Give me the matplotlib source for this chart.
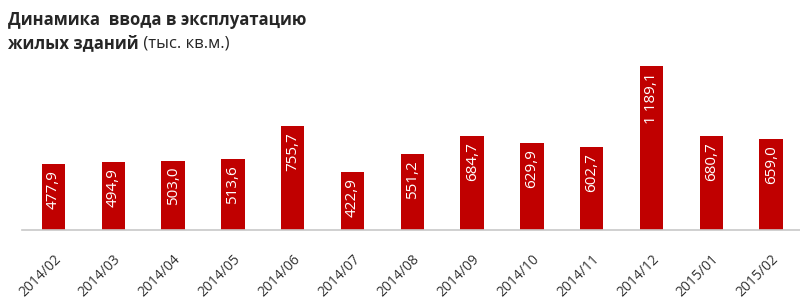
import matplotlib
matplotlib.use("Agg")
import matplotlib.pyplot as plt

# данные
months = ["2014/02", "2014/03", "2014/04", "2014/05", "2014/06", "2014/07", "2014/08",
          "2014/09", "2014/10", "2014/11", "2014/12", "2015/01", "2015/02"]
values = [477.9, 494.9, 503.0, 513.6, 755.7, 422.9, 551.2,
          684.7, 629.9, 602.7, 1189.1, 680.7, 659.0]

BAR_COLOR = "#C00000"
TEXT_COLOR = "#262626"

plt.rcParams['font.family'] = ['Open Sans', 'DejaVu Sans']


def fmt(v):
    # 1189.1 -> "1 189,1"
    return f"{v:,.1f}".replace(",", " ").replace(".", ",")


fig = plt.figure(figsize=(8, 3.08), dpi=100)
ax = fig.add_axes([0.0275, 0.2532, 0.975, 0.552])

x = range(len(values))
bars = ax.bar(x, values, width=0.39, color=BAR_COLOR, zorder=2)

for b, v in zip(bars, values):
    ax.annotate(fmt(v), xy=(b.get_x() + b.get_width() / 2, v), xytext=(0, -4.5),
                textcoords="offset points", rotation=90, ha="center", va="top",
                color="white", fontsize=11)

ax.set_xlim(-0.527, 12.516)
ax.set_ylim(0, 1233)
ax.set_xticks(list(x))
ax.set_xticklabels(months, rotation=45, ha="right", rotation_mode="anchor",
                   fontsize=10, color="#333333")
ax.tick_params(axis="x", length=0, pad=16)
ax.set_yticks([])
for side in ["top", "right", "left"]:
    ax.spines[side].set_visible(False)
ax.spines["bottom"].set_color("#C8C8C8")
ax.spines["bottom"].set_linewidth(1.2)

# заголовок
fig.text(0.01, 1 - 20 / 308, "Динамика  ввода в эксплуатацию", fontsize=12,
         fontweight="bold", color=TEXT_COLOR, va="center", ha="left")
t2 = fig.text(0.01, 1 - 43 / 308, "жилых зданий", fontsize=12,
              fontweight="bold", color=TEXT_COLOR, va="center", ha="left")
ax.annotate(" (тыс. кв.м.)", xy=(1, 0.5), xycoords=t2, va="center", ha="left",
            fontsize=12, color=TEXT_COLOR, annotation_clip=False)

fig.savefig("out.png", dpi=100)
